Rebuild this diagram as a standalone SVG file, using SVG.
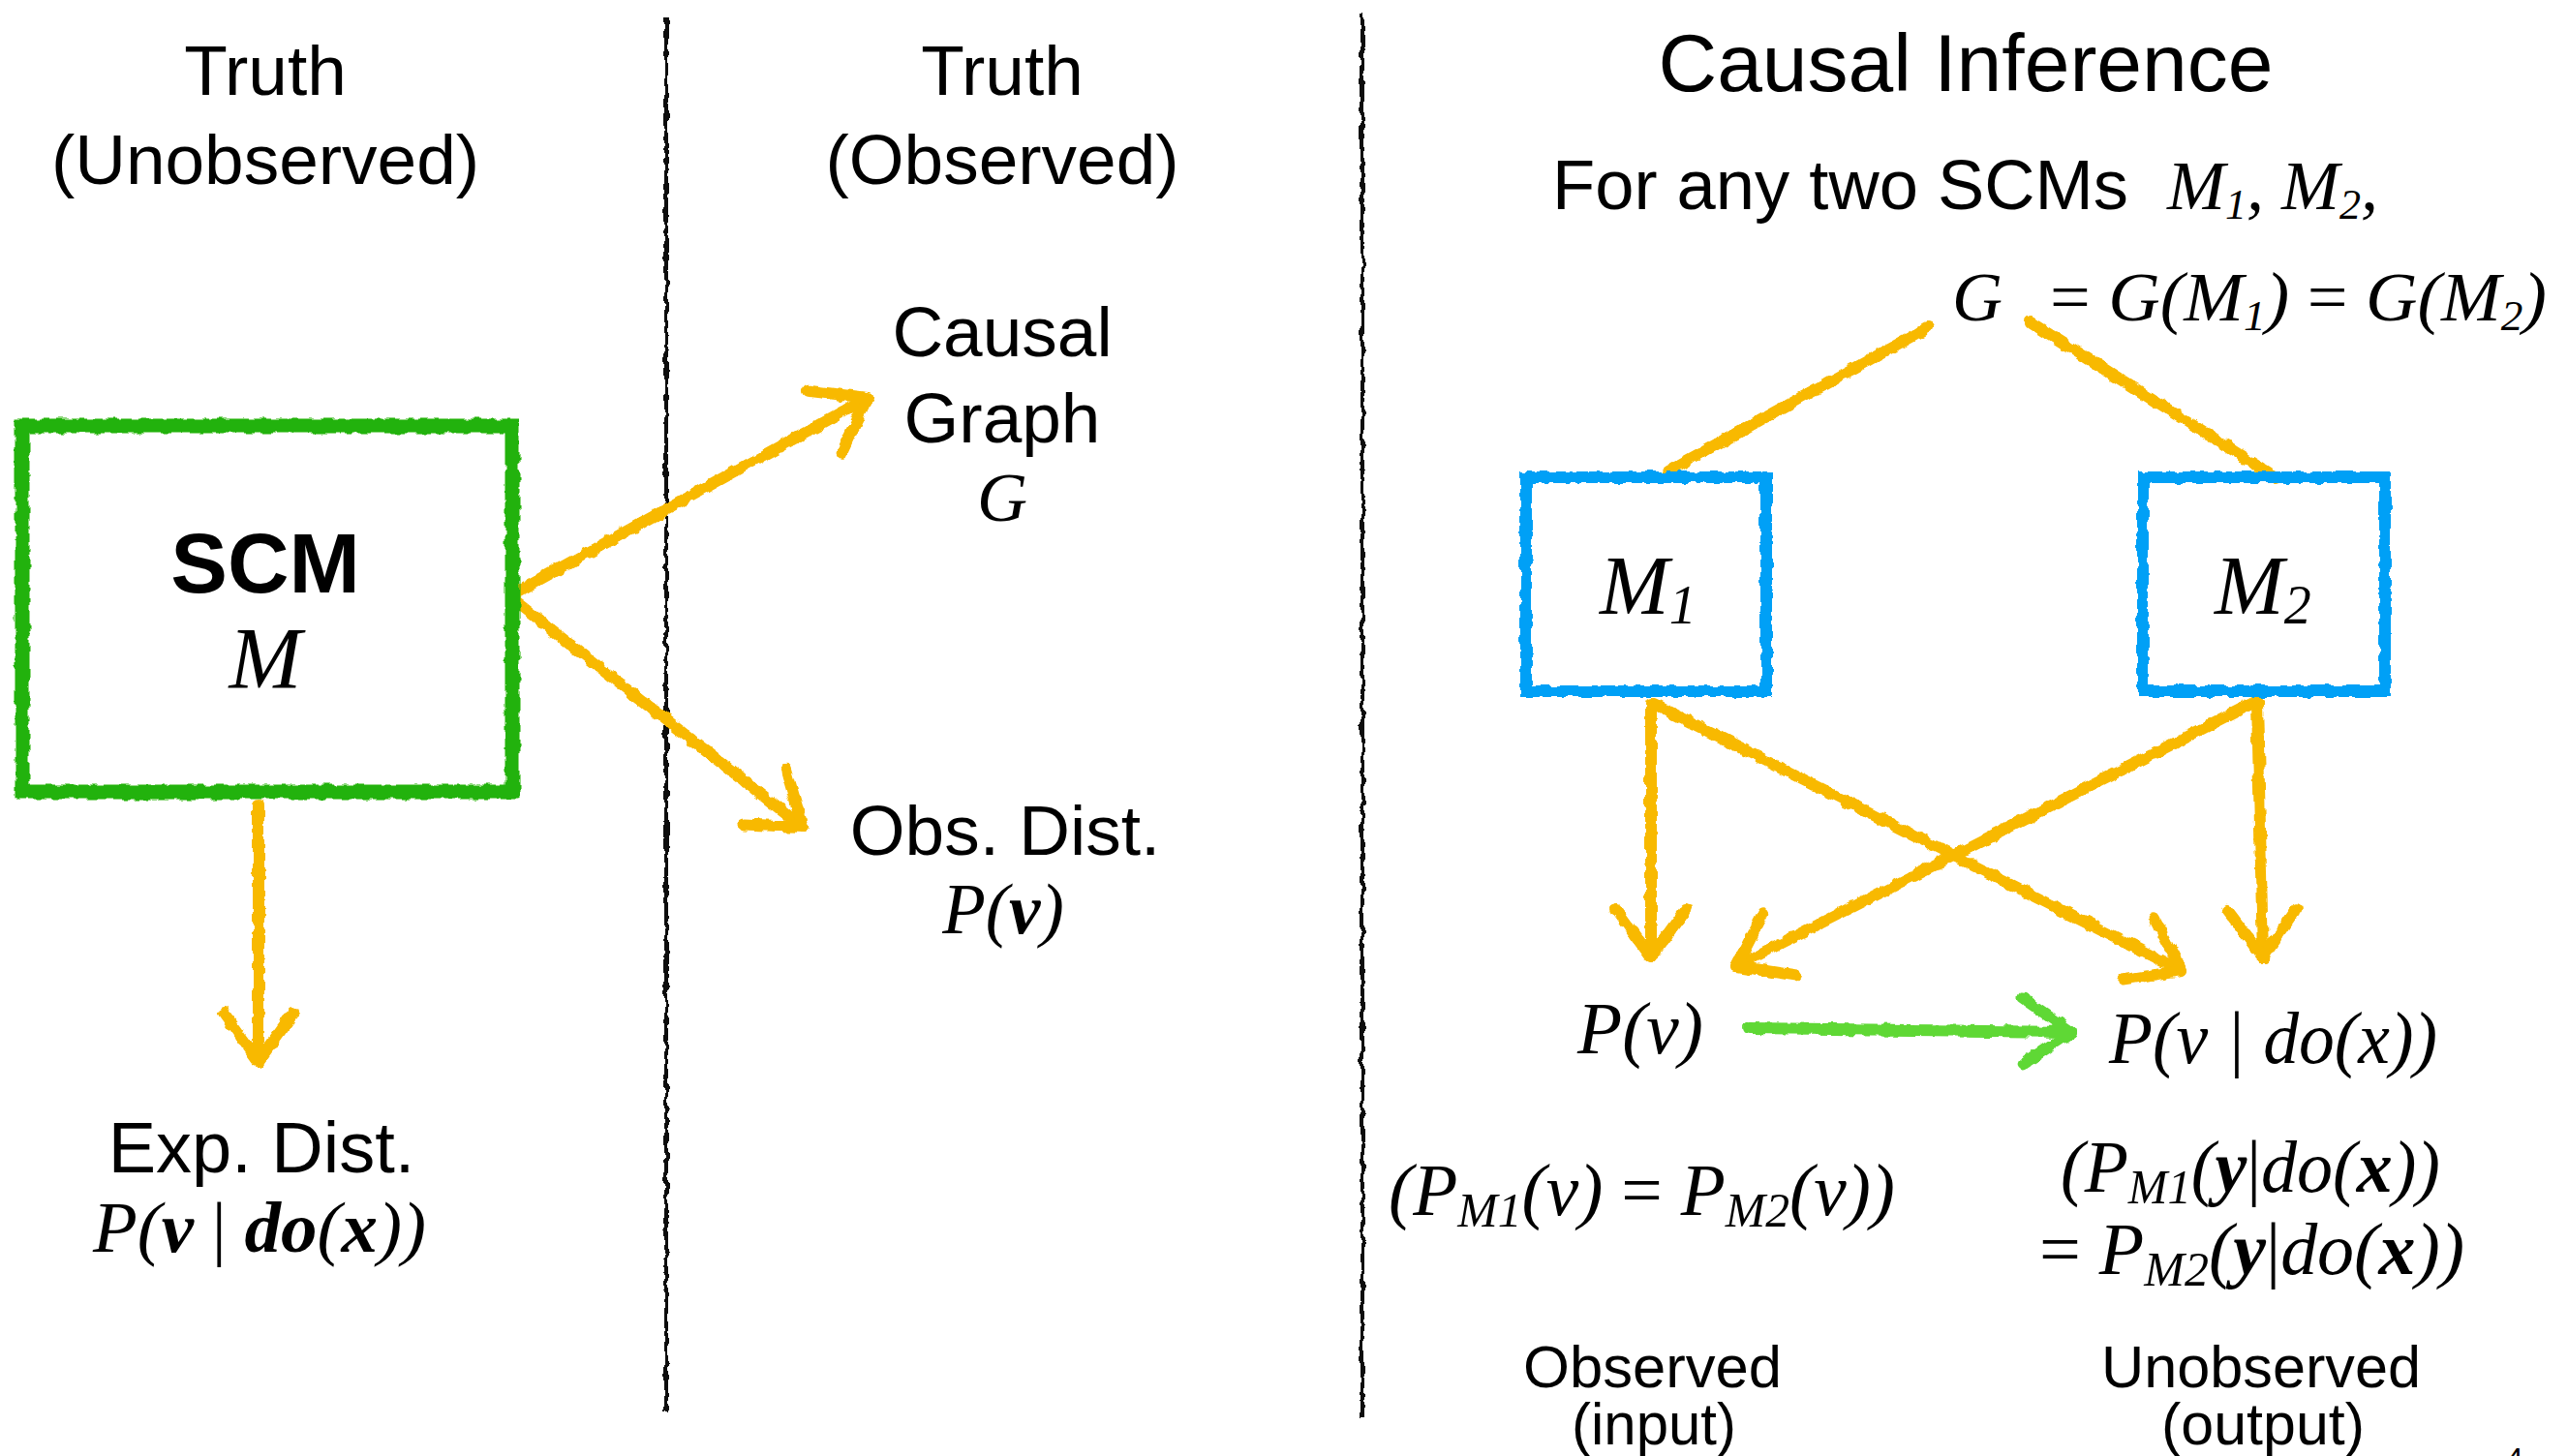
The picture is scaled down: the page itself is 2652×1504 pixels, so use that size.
<svg xmlns="http://www.w3.org/2000/svg" width="2652" height="1504" viewBox="0 0 2652 1504">
<defs>
<filter id="rough" x="-5%" y="-5%" width="110%" height="110%">
<feTurbulence type="fractalNoise" baseFrequency="0.09" numOctaves="2" seed="4" result="n"/>
<feDisplacementMap in="SourceGraphic" in2="n" scale="7" xChannelSelector="R" yChannelSelector="G"/>
</filter>
<marker id="headY" markerUnits="userSpaceOnUse" viewBox="-62 -46 72 92" refX="0" refY="0" markerWidth="72" markerHeight="92" orient="auto">
<path d="M-50,-36 L0,0 L-50,36" fill="none" stroke="#f8b900" stroke-width="12" stroke-linecap="round" stroke-linejoin="round"/>
</marker>
<marker id="headG" markerUnits="userSpaceOnUse" viewBox="-62 -46 72 92" refX="0" refY="0" markerWidth="72" markerHeight="92" orient="auto">
<path d="M-50,-34 L0,0 L-50,34" fill="none" stroke="#5fd836" stroke-width="12" stroke-linecap="round" stroke-linejoin="round"/>
</marker>
</defs>
<style>
.sans{font-family:"Liberation Sans",Arial,Helvetica,sans-serif;fill:#000}
.math{font-family:"Liberation Serif","Times New Roman",serif;font-style:italic;fill:#000}
.b{font-weight:bold}
.up{font-style:normal}
.yl{fill:none;stroke:#f8b900;stroke-width:12;stroke-linecap:round}
.gl{fill:none;stroke:#5fd836;stroke-width:12;stroke-linecap:round}
.div{fill:none;stroke:#111;stroke-width:4}
</style>
<rect width="2652" height="1504" fill="#fff"/>

<g id="dividers" filter="url(#rough)">
<path class="div" d="M688,17 L688,1458"/>
<path class="div" d="M1407,14 L1407,1463"/>
</g>

<g id="connectors" filter="url(#rough)">
<path class="yl" d="M533,612 L896,411" marker-end="url(#headY)"/>
<path class="yl" d="M533,622 L829,854" marker-end="url(#headY)"/>
<path class="yl" d="M267,832 L267,1096" marker-end="url(#headY)"/>
<path class="yl" d="M1991,338 L1722,487"/>
<path class="yl" d="M2097,333 L2351,494"/>
<path class="yl" d="M1705,727 L1705,989" marker-end="url(#headY)"/>
<path class="yl" d="M1708,727 L2253,1003" marker-end="url(#headY)"/>
<path class="yl" d="M2331,724 L1793,998" marker-end="url(#headY)"/>
<path class="yl" d="M2331,724 L2337,989" marker-end="url(#headY)"/>
<path class="gl" d="M1806,1062 L2139,1066" marker-end="url(#headG)"/>
</g>

<g id="header-unobserved">
<text class="sans" x="274" y="98" font-size="73" text-anchor="middle">Truth</text>
<text class="sans" x="274" y="190" font-size="73" text-anchor="middle">(Unobserved)</text>
</g>
<g id="header-observed">
<text class="sans" x="1035" y="98" font-size="73" text-anchor="middle">Truth</text>
<text class="sans" x="1035" y="190" font-size="73" text-anchor="middle">(Observed)</text>
</g>
<g id="header-inference">
<text class="sans" x="2030" y="94" font-size="84" text-anchor="middle">Causal Inference</text>
<text class="sans" x="1603" y="216" font-size="73" textLength="595" lengthAdjust="spacingAndGlyphs">For any two SCMs</text>
<text class="math" x="2238" y="216" font-size="72">M<tspan font-size="44" dy="10">1</tspan><tspan dy="-10">, M</tspan><tspan font-size="44" dy="10">2</tspan><tspan dy="-10">,</tspan></text>
</g>

<g id="node-scm">
<rect x="23" y="440" width="506" height="378" fill="none" stroke="#22b20a" stroke-width="15" filter="url(#rough)"/>
<text class="sans b" x="274" y="612" font-size="88" text-anchor="middle">SCM</text>
<text class="math" x="274" y="711" font-size="90" text-anchor="middle">M</text>
</g>

<g id="node-exp-dist">
<text class="sans" x="270" y="1211" font-size="74" text-anchor="middle">Exp. Dist.</text>
<text class="math" x="268" y="1293" font-size="75" text-anchor="middle">P(<tspan class="b">v</tspan><tspan class="up"> | </tspan><tspan class="b">do</tspan>(<tspan class="b">x</tspan>))</text>
</g>

<g id="node-causal-graph">
<text class="sans" x="1035" y="368" font-size="73" text-anchor="middle">Causal</text>
<text class="sans" x="1035" y="457" font-size="73" text-anchor="middle">Graph</text>
<text class="math" x="1035" y="538" font-size="72" text-anchor="middle">G</text>
</g>

<g id="node-obs-dist">
<text class="sans" x="1038" y="883" font-size="73" text-anchor="middle">Obs. Dist.</text>
<text class="math" x="1036" y="964" font-size="73" text-anchor="middle">P(<tspan class="b">v</tspan>)</text>
</g>

<g id="node-g">
<text class="math" x="2016" y="331" font-size="72">G</text>
<text class="math" x="2117" y="331" font-size="72" textLength="513" lengthAdjust="spacingAndGlyphs"><tspan class="up">=</tspan> G(M<tspan font-size="44" dy="10">1</tspan><tspan dy="-10">) </tspan><tspan class="up">=</tspan> G(M<tspan font-size="44" dy="10">2</tspan><tspan dy="-10">)</tspan></text>
</g>

<g id="node-m1">
<rect x="1576" y="493" width="248" height="221" fill="none" stroke="#06a0f6" stroke-width="12" filter="url(#rough)"/>
<text class="math" x="1652" y="634" font-size="86">M<tspan font-size="56" dy="10">1</tspan></text>
</g>

<g id="node-m2">
<rect x="2213" y="493" width="250" height="221" fill="none" stroke="#06a0f6" stroke-width="12" filter="url(#rough)"/>
<text class="math" x="2287" y="634" font-size="86">M<tspan font-size="56" dy="10">2</tspan></text>
</g>

<g id="node-pv">
<text class="math" x="1629" y="1088" font-size="76" textLength="130" lengthAdjust="spacingAndGlyphs">P(v)</text>
<text class="math" x="1434" y="1255" font-size="76" textLength="523" lengthAdjust="spacingAndGlyphs">(P<tspan font-size="50" dy="12">M1</tspan><tspan dy="-12">(v) </tspan><tspan class="up">=</tspan> P<tspan font-size="50" dy="12">M2</tspan><tspan dy="-12">(v))</tspan></text>
<text class="sans" x="1573" y="1433" font-size="62" textLength="267" lengthAdjust="spacingAndGlyphs">Observed</text>
<text class="sans" x="1623" y="1492" font-size="62" textLength="170" lengthAdjust="spacingAndGlyphs">(input)</text>
</g>

<g id="node-pvdo">
<text class="math" x="2178" y="1098" font-size="76" textLength="339" lengthAdjust="spacingAndGlyphs">P(v | do(x))</text>
<text class="math" x="2128" y="1231" font-size="76" textLength="392" lengthAdjust="spacingAndGlyphs">(P<tspan font-size="50" dy="12">M1</tspan><tspan dy="-12">(</tspan><tspan class="b">y</tspan><tspan class="up">|</tspan>do(<tspan class="b">x</tspan>))</text>
<text class="math" x="2106" y="1316" font-size="76" textLength="439" lengthAdjust="spacingAndGlyphs"><tspan class="up">=</tspan> P<tspan font-size="50" dy="12">M2</tspan><tspan dy="-12">(</tspan><tspan class="b">y</tspan><tspan class="up">|</tspan>do(<tspan class="b">x</tspan>))</text>
<text class="sans" x="2170" y="1433" font-size="62" textLength="330" lengthAdjust="spacingAndGlyphs">Unobserved</text>
<text class="sans" x="2232" y="1492" font-size="62" textLength="210" lengthAdjust="spacingAndGlyphs">(output)</text>
</g>

<text class="sans" x="2588" y="1518" font-size="32">4</text>
</svg>
